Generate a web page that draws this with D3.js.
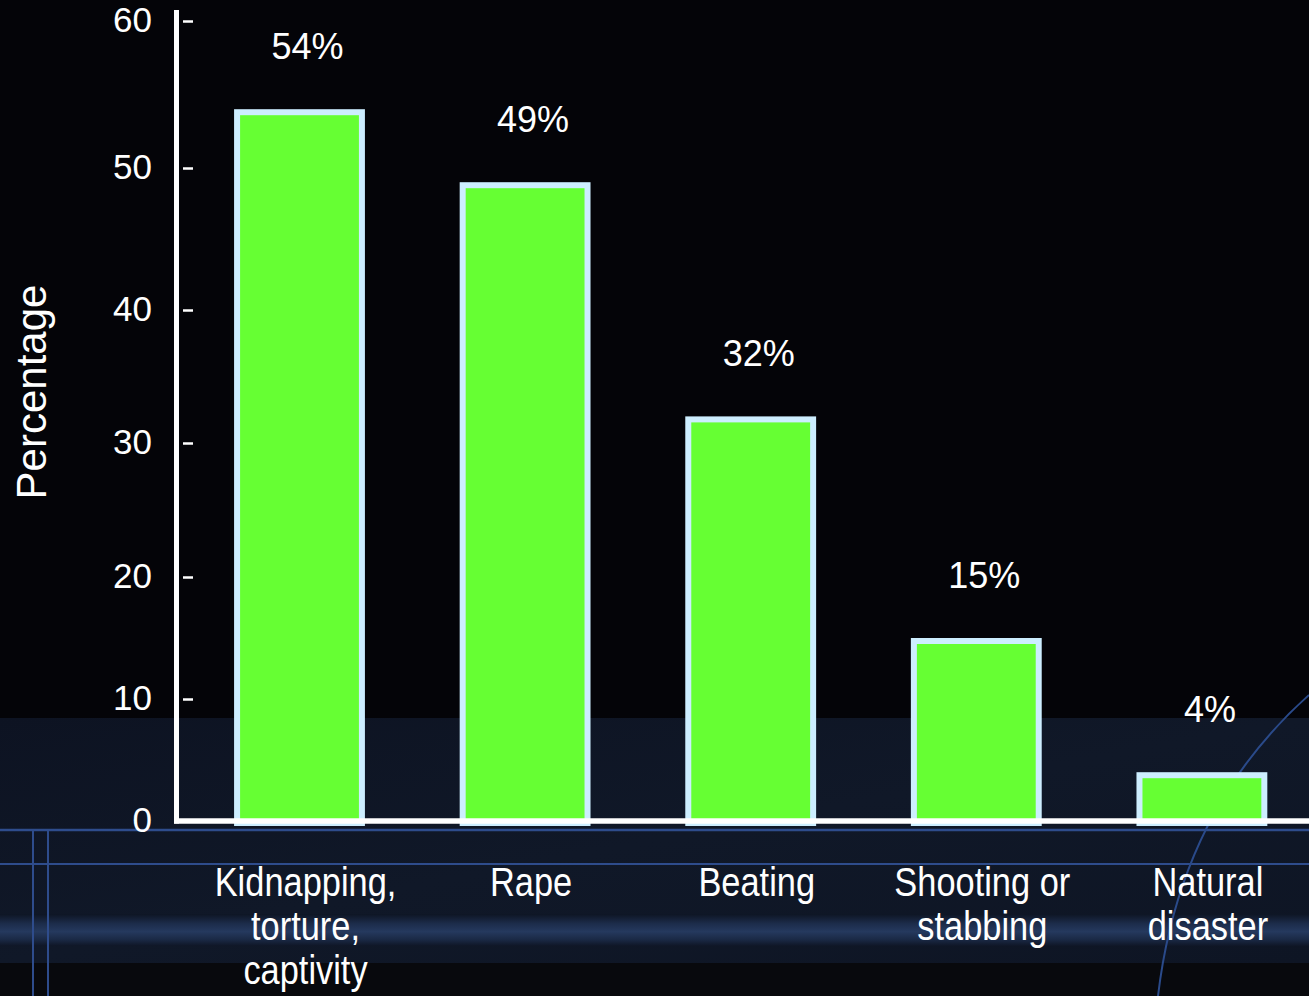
<!DOCTYPE html>
<html>
<head>
<meta charset="utf-8">
<script src="https://cdn.jsdelivr.net/npm/d3@7"></script>
<style>
  html, body { margin: 0; padding: 0; background: #040408; }
  svg { display: block; }
  text { font-family: "Liberation Sans", Arial, sans-serif; fill: #ffffff; }
</style>
</head>
<body>
<svg id="chart" width="1309" height="996"></svg>
<script>
// ---- data ----
const categories = ["Kidnapping, torture, captivity", "Rape", "Beating", "Shooting or stabbing", "Natural disaster"];
const categoryLines = [["Kidnapping,", "torture,", "captivity"], ["Rape"], ["Beating"], ["Shooting or", "stabbing"], ["Natural", "disaster"]];
const values = [54, 49, 32, 15, 4];
const yTicks = [0, 10, 20, 30, 40, 50, 60];
const yTitle = "Percentage";

// ---- layout ----
const W = 1309, H = 996;
const svg = d3.select("#chart");
const defs = svg.append("defs");

// background decoration
const glowV = defs.append("linearGradient").attr("id", "glowV").attr("x1", 0).attr("x2", 0).attr("y1", 0).attr("y2", 1);
[[0, "#0e1524"], [0.3, "#1c2c4a"], [0.55, "#25395e"], [0.8, "#1a2945"], [1, "#0f1626"]]
  .forEach(([o, c]) => glowV.append("stop").attr("offset", o).attr("stop-color", c));
const navy = defs.append("linearGradient").attr("id", "navy").attr("x1", 0).attr("x2", 1).attr("y1", 0).attr("y2", 1);
[[0, "#0d1322"], [0.5, "#101828"], [1, "#0e1524"]]
  .forEach(([o, c]) => navy.append("stop").attr("offset", o).attr("stop-color", c));

svg.append("rect").attr("width", W).attr("height", H).attr("fill", "#040408");
svg.append("rect").attr("x", 0).attr("y", 718).attr("width", W).attr("height", 245).attr("fill", "url(#navy)");
svg.append("rect").attr("x", 0).attr("y", 914).attr("width", W).attr("height", 32).attr("fill", "url(#glowV)");
svg.append("rect").attr("x", 0).attr("y", 963).attr("width", W).attr("height", H - 963).attr("fill", "#08090d");

const deco = svg.append("g").attr("stroke", "#2e4c8c").attr("fill", "none");
deco.append("line").attr("x1", 0).attr("x2", W).attr("y1", 830).attr("y2", 830).attr("stroke-width", 2.5);
deco.append("line").attr("x1", 0).attr("x2", W).attr("y1", 864).attr("y2", 864).attr("stroke-width", 2);
deco.append("line").attr("x1", 33).attr("x2", 33).attr("y1", 830).attr("y2", H).attr("stroke-width", 2);
deco.append("line").attr("x1", 48).attr("x2", 48).attr("y1", 830).attr("y2", H).attr("stroke-width", 2);
deco.append("path").attr("d", "M1309,695 Q1180,810 1158,996").attr("stroke-width", 2).attr("stroke", "#2a4a8a");

// scales
const x = d3.scaleBand().domain(categories).range([186.7, 1314.7]).paddingInner(0.42).paddingOuter(0.21);
const y = d3.scaleLinear().domain(yTicks).range([821, 699, 577, 443, 310, 168, 21]);

// bars
const sw = 6;
svg.append("g").selectAll("rect").data(values).join("rect")
  .attr("x", (d, i) => x(categories[i]) + sw / 2)
  .attr("width", x.bandwidth() - sw)
  .attr("y", d => y(d) + sw / 2)
  .attr("height", d => y(0) + 2 - (y(d) + sw / 2))
  .attr("fill", "#66ff33")
  .attr("stroke", "#cdeeff")
  .attr("stroke-width", sw);

// value labels
svg.append("g").selectAll("text").data(values).join("text")
  .attr("x", (d, i) => x(categories[i]) + x.bandwidth() / 2 + 8)
  .attr("y", d => y(d) - 50)
  .attr("text-anchor", "middle")
  .attr("font-size", 36)
  .text(d => d + "%");

// y axis
const axisX = 183;
const yAxis = d3.axisLeft(y).tickValues(yTicks).tickSizeInner(-10).tickSizeOuter(0).tickPadding(31).tickFormat(d3.format("d"));
const ag = svg.append("g").attr("transform", `translate(${axisX},0)`).call(yAxis);
ag.select(".domain").remove();
ag.selectAll(".tick line").attr("stroke", "#ffffff").attr("stroke-width", 2.5);
ag.selectAll(".tick text").attr("font-size", 35).attr("fill", "#ffffff")
  .attr("font-family", "'Liberation Sans', Arial, sans-serif").attr("dy", "0.3em");

// axis lines
svg.append("line").attr("x1", 176.5).attr("x2", 176.5).attr("y1", 10).attr("y2", y(0) + 2.5)
  .attr("stroke", "#ffffff").attr("stroke-width", 5);
svg.append("line").attr("x1", 174).attr("x2", W).attr("y1", y(0)).attr("y2", y(0))
  .attr("stroke", "#ffffff").attr("stroke-width", 5.5);

// category labels (condensed)
const cl = svg.append("g").selectAll("g").data(categoryLines).join("g")
  .attr("transform", (d, i) => `translate(${x(categories[i]) + x.bandwidth() / 2 + 6},896) scale(0.86,1)`);
cl.selectAll("text").data(d => d).join("text")
  .attr("x", 0)
  .attr("y", (d, j) => j * 44)
  .attr("text-anchor", "middle")
  .attr("font-size", 40)
  .text(d => d);

// y title
svg.append("text")
  .attr("transform", "translate(46,392) rotate(-90)")
  .attr("text-anchor", "middle")
  .attr("font-size", 42)
  .text(yTitle);
</script>
</body>
</html>
